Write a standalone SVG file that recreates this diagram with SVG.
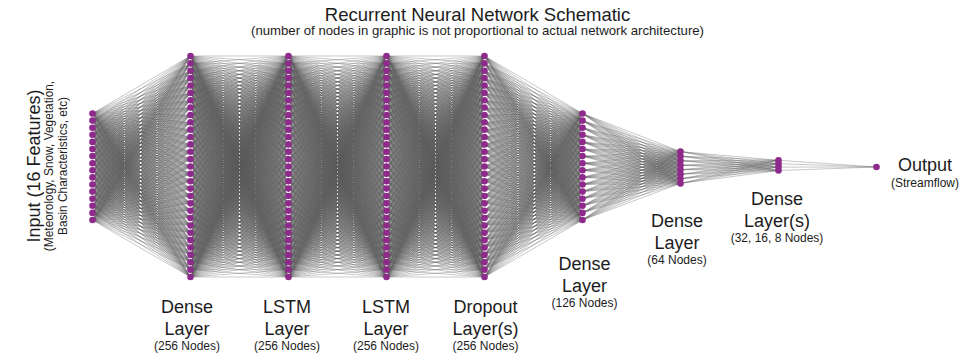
<svg xmlns="http://www.w3.org/2000/svg" xmlns:xlink="http://www.w3.org/1999/xlink" width="975" height="361" viewBox="0 0 975 361">
<style>
text{font-family:"Liberation Sans",Arial,sans-serif;fill:#1c1c1c;text-anchor:middle}
.b{font-size:18px}
.s{font-size:12px}
.st{font-size:13.2px}
.r{font-size:11.9px}
.ti{font-size:18.5px}
</style>
<rect width="975" height="361" fill="#ffffff"/>
<defs>
<path id="fanA" vector-effect="non-scaling-stroke" d="M0 0L98 56M0 0L98 63.37M0 0L98 70.73M0 0L98 78.1M0 0L98 85.47M0 0L98 92.83M0 0L98 100.2M0 0L98 107.57M0 0L98 114.93M0 0L98 122.3M0 0L98 129.67M0 0L98 137.03M0 0L98 144.4M0 0L98 151.77M0 0L98 159.13M0 0L98 166.5M0 0L98 173.87M0 0L98 181.23M0 0L98 188.6M0 0L98 195.97M0 0L98 203.33M0 0L98 210.7M0 0L98 218.07M0 0L98 225.43M0 0L98 232.8M0 0L98 240.17M0 0L98 247.53M0 0L98 254.9M0 0L98 262.27M0 0L98 269.63M0 0L98 277"/>
<path id="fanC" vector-effect="non-scaling-stroke" d="M0 0L98 151.6M0 0L98 156.14M0 0L98 160.68M0 0L98 165.22M0 0L98 169.76M0 0L98 174.3M0 0L98 178.84M0 0L98 183.38"/>
<path id="fanD" vector-effect="non-scaling-stroke" d="M0 0L98 160.3M0 0L98 163.7M0 0L98 167.1M0 0L98 170.5"/>
<g id="blk31">
<use href="#fanA" transform="matrix(1 -0.57143 0 1 0 56)"/>
<use href="#fanA" transform="matrix(1 -0.64663 0 1 0 63.37)"/>
<use href="#fanA" transform="matrix(1 -0.72173 0 1 0 70.73)"/>
<use href="#fanA" transform="matrix(1 -0.79694 0 1 0 78.1)"/>
<use href="#fanA" transform="matrix(1 -0.87214 0 1 0 85.47)"/>
<use href="#fanA" transform="matrix(1 -0.94724 0 1 0 92.83)"/>
<use href="#fanA" transform="matrix(1 -1.02245 0 1 0 100.2)"/>
<use href="#fanA" transform="matrix(1 -1.09765 0 1 0 107.57)"/>
<use href="#fanA" transform="matrix(1 -1.17276 0 1 0 114.93)"/>
<use href="#fanA" transform="matrix(1 -1.24796 0 1 0 122.3)"/>
<use href="#fanA" transform="matrix(1 -1.32316 0 1 0 129.67)"/>
<use href="#fanA" transform="matrix(1 -1.39827 0 1 0 137.03)"/>
<use href="#fanA" transform="matrix(1 -1.47347 0 1 0 144.4)"/>
<use href="#fanA" transform="matrix(1 -1.54867 0 1 0 151.77)"/>
<use href="#fanA" transform="matrix(1 -1.62378 0 1 0 159.13)"/>
<use href="#fanA" transform="matrix(1 -1.69898 0 1 0 166.5)"/>
<use href="#fanA" transform="matrix(1 -1.77418 0 1 0 173.87)"/>
<use href="#fanA" transform="matrix(1 -1.84929 0 1 0 181.23)"/>
<use href="#fanA" transform="matrix(1 -1.92449 0 1 0 188.6)"/>
<use href="#fanA" transform="matrix(1 -1.99969 0 1 0 195.97)"/>
<use href="#fanA" transform="matrix(1 -2.0748 0 1 0 203.33)"/>
<use href="#fanA" transform="matrix(1 -2.15 0 1 0 210.7)"/>
<use href="#fanA" transform="matrix(1 -2.2252 0 1 0 218.07)"/>
<use href="#fanA" transform="matrix(1 -2.30031 0 1 0 225.43)"/>
<use href="#fanA" transform="matrix(1 -2.37551 0 1 0 232.8)"/>
<use href="#fanA" transform="matrix(1 -2.45071 0 1 0 240.17)"/>
<use href="#fanA" transform="matrix(1 -2.52582 0 1 0 247.53)"/>
<use href="#fanA" transform="matrix(1 -2.60102 0 1 0 254.9)"/>
<use href="#fanA" transform="matrix(1 -2.67622 0 1 0 262.27)"/>
<use href="#fanA" transform="matrix(1 -2.75133 0 1 0 269.63)"/>
<use href="#fanA" transform="matrix(1 -2.82653 0 1 0 277)"/>
</g>
<g id="blkIn">
<use href="#fanA" transform="matrix(1 -1.15816 0 1 0 113.5)"/>
<use href="#fanA" transform="matrix(1 -1.23061 0 1 0 120.6)"/>
<use href="#fanA" transform="matrix(1 -1.30306 0 1 0 127.7)"/>
<use href="#fanA" transform="matrix(1 -1.37551 0 1 0 134.8)"/>
<use href="#fanA" transform="matrix(1 -1.44796 0 1 0 141.9)"/>
<use href="#fanA" transform="matrix(1 -1.52041 0 1 0 149)"/>
<use href="#fanA" transform="matrix(1 -1.59286 0 1 0 156.1)"/>
<use href="#fanA" transform="matrix(1 -1.66531 0 1 0 163.2)"/>
<use href="#fanA" transform="matrix(1 -1.73776 0 1 0 170.3)"/>
<use href="#fanA" transform="matrix(1 -1.8102 0 1 0 177.4)"/>
<use href="#fanA" transform="matrix(1 -1.88265 0 1 0 184.5)"/>
<use href="#fanA" transform="matrix(1 -1.9551 0 1 0 191.6)"/>
<use href="#fanA" transform="matrix(1 -2.02755 0 1 0 198.7)"/>
<use href="#fanA" transform="matrix(1 -2.1 0 1 0 205.8)"/>
<use href="#fanA" transform="matrix(1 -2.17245 0 1 0 212.9)"/>
<use href="#fanA" transform="matrix(1 -2.2449 0 1 0 220)"/>
</g>
<circle id="n" r="3.3" fill="#8e2a8c"/>
<g id="col31">
<use href="#n" y="56"/><use href="#n" y="63.37"/><use href="#n" y="70.73"/><use href="#n" y="78.1"/><use href="#n" y="85.47"/><use href="#n" y="92.83"/><use href="#n" y="100.2"/><use href="#n" y="107.57"/><use href="#n" y="114.93"/><use href="#n" y="122.3"/><use href="#n" y="129.67"/><use href="#n" y="137.03"/><use href="#n" y="144.4"/><use href="#n" y="151.77"/><use href="#n" y="159.13"/><use href="#n" y="166.5"/><use href="#n" y="173.87"/><use href="#n" y="181.23"/><use href="#n" y="188.6"/><use href="#n" y="195.97"/><use href="#n" y="203.33"/><use href="#n" y="210.7"/><use href="#n" y="218.07"/><use href="#n" y="225.43"/><use href="#n" y="232.8"/><use href="#n" y="240.17"/><use href="#n" y="247.53"/><use href="#n" y="254.9"/><use href="#n" y="262.27"/><use href="#n" y="269.63"/><use href="#n" y="277"/>
</g>
<g id="col16">
<use href="#n" y="113.5"/><use href="#n" y="120.6"/><use href="#n" y="127.7"/><use href="#n" y="134.8"/><use href="#n" y="141.9"/><use href="#n" y="149"/><use href="#n" y="156.1"/><use href="#n" y="163.2"/><use href="#n" y="170.3"/><use href="#n" y="177.4"/><use href="#n" y="184.5"/><use href="#n" y="191.6"/><use href="#n" y="198.7"/><use href="#n" y="205.8"/><use href="#n" y="212.9"/><use href="#n" y="220"/>
</g>
</defs>

<g id="connectors" fill="none" stroke="#5a5a5a" stroke-width="0.6" stroke-opacity="0.56">
<use href="#blkIn" x="92.5"/>
<use href="#blk31" x="190.5"/>
<use href="#blk31" x="288.5"/>
<use href="#blk31" x="386.5"/>
<use href="#blkIn" transform="translate(582.5 0) scale(-1 1)"/>
<g transform="translate(582.5 0)">
<use href="#fanC" transform="matrix(1 -1.15816 0 1 0 113.5)"/>
<use href="#fanC" transform="matrix(1 -1.23061 0 1 0 120.6)"/>
<use href="#fanC" transform="matrix(1 -1.30306 0 1 0 127.7)"/>
<use href="#fanC" transform="matrix(1 -1.37551 0 1 0 134.8)"/>
<use href="#fanC" transform="matrix(1 -1.44796 0 1 0 141.9)"/>
<use href="#fanC" transform="matrix(1 -1.52041 0 1 0 149)"/>
<use href="#fanC" transform="matrix(1 -1.59286 0 1 0 156.1)"/>
<use href="#fanC" transform="matrix(1 -1.66531 0 1 0 163.2)"/>
<use href="#fanC" transform="matrix(1 -1.73776 0 1 0 170.3)"/>
<use href="#fanC" transform="matrix(1 -1.8102 0 1 0 177.4)"/>
<use href="#fanC" transform="matrix(1 -1.88265 0 1 0 184.5)"/>
<use href="#fanC" transform="matrix(1 -1.9551 0 1 0 191.6)"/>
<use href="#fanC" transform="matrix(1 -2.02755 0 1 0 198.7)"/>
<use href="#fanC" transform="matrix(1 -2.1 0 1 0 205.8)"/>
<use href="#fanC" transform="matrix(1 -2.17245 0 1 0 212.9)"/>
<use href="#fanC" transform="matrix(1 -2.2449 0 1 0 220)"/>
</g>
<g transform="translate(680.5 0)">
<use href="#fanD" transform="matrix(1 -1.54694 0 1 0 151.6)"/>
<use href="#fanD" transform="matrix(1 -1.59327 0 1 0 156.14)"/>
<use href="#fanD" transform="matrix(1 -1.63959 0 1 0 160.68)"/>
<use href="#fanD" transform="matrix(1 -1.68592 0 1 0 165.22)"/>
<use href="#fanD" transform="matrix(1 -1.73224 0 1 0 169.76)"/>
<use href="#fanD" transform="matrix(1 -1.77857 0 1 0 174.3)"/>
<use href="#fanD" transform="matrix(1 -1.8249 0 1 0 178.84)"/>
<use href="#fanD" transform="matrix(1 -1.87122 0 1 0 183.38)"/>
</g>
<path d="M778.5 160.3L876.5 167M778.5 163.7L876.5 167M778.5 167.1L876.5 167M778.5 170.5L876.5 167"/>
</g>

<g id="title">
<text class="ti" x="477.5" y="21">Recurrent Neural Network Schematic</text>
<text class="st" x="477.5" y="35">(number of nodes in graphic is not proportional to actual network architecture)</text>
</g>

<g id="input-layer">
<use href="#col16" x="92.5"/>
<text class="b" transform="translate(39.5 166) rotate(-90)">Input (16 Features)</text>
<text class="r" transform="translate(53 166) rotate(-90)">(Meteorology, Snow, Vegetation,</text>
<text class="r" transform="translate(66.5 166) rotate(-90)">Basin Characteristics, etc)</text>
</g>

<g id="dense-256">
<use href="#col31" x="190.5"/>
<text class="b" x="187" y="313">Dense</text>
<text class="b" x="187" y="335">Layer</text>
<text class="s" x="187" y="350">(256 Nodes)</text>
</g>

<g id="lstm-1">
<use href="#col31" x="288.5"/>
<text class="b" x="287" y="313">LSTM</text>
<text class="b" x="287" y="335">Layer</text>
<text class="s" x="287" y="350">(256 Nodes)</text>
</g>

<g id="lstm-2">
<use href="#col31" x="386.5"/>
<text class="b" x="386" y="313">LSTM</text>
<text class="b" x="386" y="335">Layer</text>
<text class="s" x="386" y="350">(256 Nodes)</text>
</g>

<g id="dropout">
<use href="#col31" x="484.5"/>
<text class="b" x="485.5" y="313">Dropout</text>
<text class="b" x="485.5" y="335">Layer(s)</text>
<text class="s" x="485.5" y="350">(256 Nodes)</text>
</g>

<g id="dense-126">
<use href="#col16" x="582.5"/>
<text class="b" x="584.5" y="270">Dense</text>
<text class="b" x="584.5" y="292">Layer</text>
<text class="s" x="584.5" y="307">(126 Nodes)</text>
</g>

<g id="dense-64">
<circle cx="680.5" cy="151.6" r="3.3" fill="#8e2a8c"/>
<circle cx="680.5" cy="156.14" r="3.3" fill="#8e2a8c"/>
<circle cx="680.5" cy="160.68" r="3.3" fill="#8e2a8c"/>
<circle cx="680.5" cy="165.22" r="3.3" fill="#8e2a8c"/>
<circle cx="680.5" cy="169.76" r="3.3" fill="#8e2a8c"/>
<circle cx="680.5" cy="174.3" r="3.3" fill="#8e2a8c"/>
<circle cx="680.5" cy="178.84" r="3.3" fill="#8e2a8c"/>
<circle cx="680.5" cy="183.38" r="3.3" fill="#8e2a8c"/>
<text class="b" x="677" y="227">Dense</text>
<text class="b" x="677" y="249">Layer</text>
<text class="s" x="677" y="264">(64 Nodes)</text>
</g>

<g id="dense-small">
<circle cx="778.5" cy="160.3" r="3.3" fill="#8e2a8c"/>
<circle cx="778.5" cy="163.7" r="3.3" fill="#8e2a8c"/>
<circle cx="778.5" cy="167.1" r="3.3" fill="#8e2a8c"/>
<circle cx="778.5" cy="170.5" r="3.3" fill="#8e2a8c"/>
<text class="b" x="777" y="205">Dense</text>
<text class="b" x="777" y="227">Layer(s)</text>
<text class="s" x="777" y="242">(32, 16, 8 Nodes)</text>
</g>

<g id="output">
<circle cx="876.5" cy="167" r="3.3" fill="#8e2a8c"/>
<text class="b" x="925" y="171">Output</text>
<text class="s" x="925" y="187">(Streamflow)</text>
</g>
</svg>
